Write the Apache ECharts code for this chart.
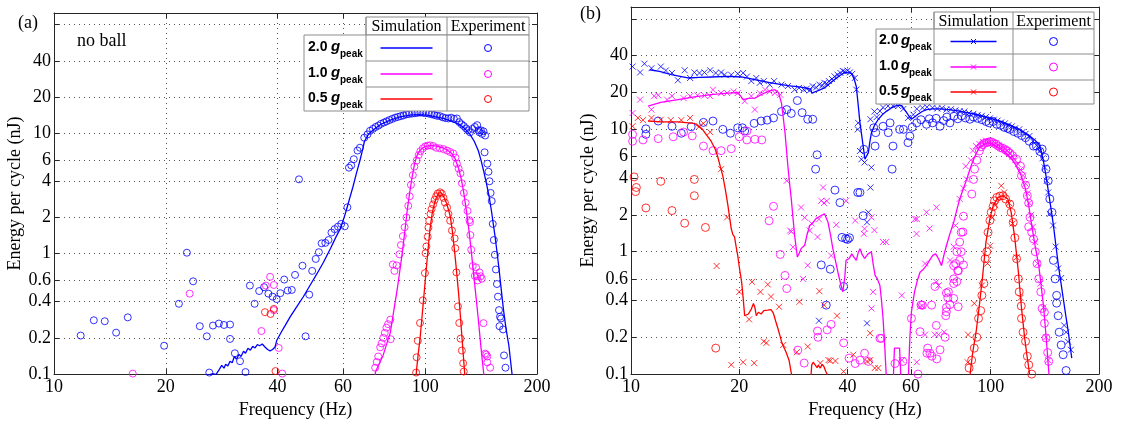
<!DOCTYPE html>
<html>
<head>
<meta charset="utf-8">
<script src="https://cdn.jsdelivr.net/npm/echarts@6/dist/echarts.min.js"></script>
<style>
  html, body { margin: 0; padding: 0; background: #fff; }
  #chart { width: 1121px; height: 424px; }
</style>
</head>
<body>
<div id="chart"></div>
<script>
// ---- axis ticks and labels ----
const xTickValues = [20, 40, 60, 100];
const xLabelValues = [10, 20, 40, 60, 100, 200];
const yTickValues = [0.2, 0.4, 0.6, 1, 2, 4, 6, 10, 20, 40, 80];
const yLabelValues = [0.1, 0.2, 0.4, 0.6, 1, 2, 4, 6, 10, 20, 40];
const legendRows = ['2.0', '1.0', '0.5'];

// ---- panel (a): no ball — [frequency Hz, energy nJ] ----
const aSim20 = [[26.0,0.098],[26.8,0.101],[27.3,0.099],[27.8,0.108],[28.3,0.118],[28.7,0.112],[29.0,0.121],[29.4,0.117],[29.8,0.128],[30.2,0.124],[30.6,0.140],[31.0,0.133],[31.5,0.146],[31.9,0.140],[32.4,0.155],[32.8,0.149],[33.3,0.164],[33.8,0.158],[34.3,0.170],[34.8,0.165],[35.3,0.176],[35.8,0.172],[36.4,0.178],[37.0,0.168],[37.6,0.160],[38.2,0.156],[38.8,0.160],[39.4,0.168],[39.8,0.190],[41.0,0.225],[42.0,0.255],[43.3,0.30],[45.0,0.36],[46.9,0.437],[49.0,0.55],[51.0,0.676],[53.2,0.85],[55.6,1.11],[57.5,1.38],[59.0,1.61],[60.3,1.95],[61.4,2.34],[62.6,2.9],[63.9,3.62],[65.3,4.7],[66.7,5.95],[67.7,7.2],[68.6,8.6],[70.4,9.9],[72.5,10.7],[76.0,11.9],[80.5,12.9],[85.5,13.7],[91,14.2],[96,14.3],[101,14.2],[106,13.8],[112,13.3],[118,12.6],[124,11.8],[128,10.9],[132,9.8],[135.5,8.6],[139,7.17],[141.3,6.0],[143.5,4.94],[146,3.9],[148.6,3.0],[151,2.2],[154,1.43],[156.4,0.98],[158.6,0.676],[160.5,0.48],[162.5,0.34],[165,0.24],[168,0.172],[171,0.105],[172,0.09]];
const aExp20 = [[11.8,0.209],[12.8,0.28],[13.7,0.275],[14.7,0.221],[15.8,0.296],[19.8,0.172],[21.7,0.384],[22.8,1.02],[23.7,0.59],[24.7,0.25],[25.8,0.206],[26.2,0.103],[26.8,0.253],[27.8,0.263],[28.7,0.256],[29.8,0.258],[29.8,0.196],[30.7,0.149],[31.7,0.128],[32.8,0.104],[33.7,0.544],[34.7,0.384],[35.7,0.49],[36.8,0.527],[37.8,0.466],[38.8,0.44],[39.8,0.42],[40.7,0.47],[41.7,0.61],[42.6,0.495],[43.7,0.5],[44.6,0.667],[45.7,4.15],[46.7,0.795],[47.6,0.206],[48.7,0.457],[49.6,0.72],[50.7,0.905],[51.7,1.03],[52.6,1.22],[53.8,1.23],[54.9,1.3],[55.9,1.5],[57.0,1.6],[58.2,1.68],[59.4,1.77],[60.7,1.69],[61.7,2.43],[62.3,5.19],[63.2,5.42],[64.2,6.1],[65.7,7.2],[66.7,7.6],[68.5,9.2],[69.9,9.8],[71.0,10.5],[72.3,10.9],[73.5,11.3],[74.8,11.6],[76.0,12.0],[77.4,12.3],[78.7,12.6],[80.1,12.9],[81.5,13.2],[83.0,13.5],[84.4,13.7],[85.9,13.9],[87.4,14.1],[89.0,14.4],[90.5,14.5],[92.1,14.6],[93.7,14.7],[95.3,14.8],[97.0,14.9],[98.7,14.8],[100.4,14.7],[102.2,14.6],[104.0,14.4],[105.8,14.2],[107.6,14.0],[109.5,13.9],[111.4,13.6],[113.4,13.4],[115.4,13.3],[117.4,13.5],[119.4,13.2],[121.7,13.3],[123.5,12.4],[125.3,11.9],[127.0,11.5],[128.8,11.0],[130.4,10.6],[132.0,10.2],[134.0,10.9],[136.0,11.3],[138.0,11.7],[139.2,10.6],[140.0,10.2],[141.2,10.6],[142.3,9.9],[143.5,10.4],[145.0,9.6],[144.5,6.96],[147,5.6],[148,4.8],[149,4.0],[150,3.2],[151,2.74],[152,1.77],[153,1.3],[154,0.98],[155,0.74],[156,0.56],[157,0.44],[158,0.34],[159,0.30],[160,0.29],[158.5,0.25],[162,0.235],[163,0.143],[164.5,0.113]];
const aSim10 = [[73.0,0.09],[73.5,0.105],[75.0,0.12],[77,0.143],[78.8,0.18],[80.5,0.22],[82.2,0.33],[84,0.5],[85.5,0.74],[86.8,1.04],[88.2,1.58],[89.5,2.34],[90.9,3.3],[92.2,4.36],[93.5,5.5],[94.9,6.5],[96.7,7.2],[98.7,7.6],[101,7.85],[104,7.95],[108,7.8],[112,7.55],[115,7.2],[118,6.8],[120.5,6.1],[123,5.1],[125,4.2],[127,3.2],[129,2.3],[131,1.61],[133,1.06],[135,0.676],[137,0.44],[139,0.284],[141.2,0.17],[143.5,0.105],[144.5,0.09]];
const aExp10 = [[16.3,0.101],[23.2,0.466],[36.2,0.228],[37.2,0.544],[38.2,0.643],[39.1,0.55],[39.1,0.34],[40.3,0.165],[41.2,0.101],[73.3,0.113],[74.0,0.126],[74.7,0.14],[75.6,0.167],[76.3,0.18],[77.1,0.2],[77.8,0.22],[78.6,0.243],[79.4,0.26],[80.5,0.283],[80.7,0.195],[81.8,0.815],[82.6,0.72],[83.7,0.8],[85.2,0.99],[86.0,1.18],[87.0,1.4],[88.0,1.66],[89.0,2.0],[90.0,2.5],[90.8,3.0],[91.5,3.73],[92.6,4.5],[93.5,5.3],[94.8,5.95],[96.0,6.6],[97.0,7.1],[98.5,7.5],[100.0,7.8],[101.5,7.9],[103.0,7.95],[105.0,7.85],[107.0,7.6],[109.5,7.5],[112.0,7.4],[114.5,7.2],[116.7,7.0],[119.0,6.8],[120.6,6.3],[121.7,5.6],[123.0,5.1],[124.4,4.65],[125.5,3.85],[127.0,3.2],[128.5,2.65],[130.0,2.27],[131.5,1.9],[132.0,1.83],[132.3,1.43],[133.0,1.08],[134.3,0.79],[136.0,0.655],[137.0,0.77],[138.0,0.65],[140.0,0.7],[141.0,0.65],[138.5,0.6],[142.0,0.62],[143.5,0.265],[145.0,0.148],[146.0,0.145],[147.0,0.14],[147.0,0.125],[149.6,0.113]];
const aSim05 = [[94.3,0.09],[94.8,0.11],[95.8,0.15],[96.8,0.195],[98.3,0.33],[100,0.6],[101.5,1.0],[103,1.61],[104.5,2.2],[106,2.65],[107.5,3.0],[109,3.2],[110.5,3.2],[112,3.0],[114.3,2.6],[116.7,2.07],[118.3,1.55],[120,1.04],[121.5,0.7],[123,0.466],[124.3,0.31],[125.5,0.207],[126.6,0.145],[127.6,0.105],[128,0.09]];
const aExp05 = [[37.0,0.327],[38.3,0.316],[39.1,0.348],[39.5,0.106],[94.5,0.103],[94.8,0.138],[95.5,0.189],[96.8,0.266],[98.5,0.41],[99.8,0.69],[100.2,1.01],[100.7,1.15],[101.5,1.38],[102.0,1.65],[102.5,1.88],[103.3,2.14],[104.0,2.35],[105.0,2.57],[106.0,2.8],[107.0,3.0],[108.0,3.16],[109.6,3.24],[110.8,3.16],[112.0,2.91],[113.0,2.66],[114.5,2.42],[115.5,2.14],[116.7,1.88],[118.0,1.56],[120.0,1.34],[120.5,1.11],[121.3,0.7],[122.5,0.365],[123.5,0.266],[124.5,0.197],[125.5,0.157],[126.5,0.123],[127.0,0.105]];

// ---- panel (b): with ball — smoothed simulation, raw simulation (x), experiment ----
const bSim20 = [[11.27,30.7],[12.0,29.8],[12.95,28.0],[13.7,27.1],[14.4,26.3],[15.5,26.6],[16.7,26.8],[18.6,27.1],[20.3,26.8],[22.1,25.5],[24.5,24.0],[27.3,22.8],[29.7,22.1],[31.6,21.3],[31.8,19.8],[33.0,20.6],[34.5,21.8],[35.6,23.6],[36.8,25.5],[38.0,27.4],[39.3,29.2],[40.5,29.0],[41.1,28.5],[41.8,25.3],[42.3,22.4],[42.8,16.0],[43.3,11.3],[43.8,8.9],[44.2,7.3],[44.7,5.7],[45.2,5.9],[45.7,6.45],[46.1,7.8],[46.6,9.4],[47.6,10.9],[48.7,12.1],[50.0,13.2],[51.4,14.1],[52.8,14.9],[54.2,15.5],[55.4,15.8],[56.6,15.6],[57.5,14.6],[58.4,13.7],[59.3,12.8],[60.2,12.1],[61.5,12.7],[62.8,13.3],[64.5,14.0],[66.3,14.5],[69.0,14.7],[72.3,14.7],[76.5,14.5],[82,14.1],[87.5,13.6],[93,13.0],[99,12.4],[106,11.7],[112,11.0],[118,10.3],[123,9.6],[128.6,8.8],[132.5,8.2],[136,7.55],[138.3,6.6],[140.4,5.35],[142.6,4.1],[144.8,3.05],[147.1,2.25],[149.4,1.64],[151.8,1.12],[154.2,0.774],[156.6,0.57],[159.1,0.415],[161.7,0.3],[164.3,0.222],[166.2,0.17],[168,0.135]];
const bRaw20 = [[10.1,32.6],[10.6,29.2],[10.9,34.4],[11.4,31.6],[12.1,32.6],[12.5,30.3],[13.0,28.9],[13.5,25.2],[14.1,30.4],[14.6,26.3],[15.0,29.2],[15.5,28.9],[16.0,29.2],[16.6,30.4],[17.2,28.9],[17.8,29.2],[18.2,27.9],[19.0,27.9],[19.8,28.5],[20.5,28.9],[21.0,27.0],[21.6,24.8],[22.3,26.3],[22.8,24.0],[23.4,24.8],[24.3,23.2],[25.0,24.8],[26.2,23.2],[27.3,22.6],[28.5,21.1],[29.3,21.8],[30.2,21.1],[30.8,21.5],[31.4,20.8],[32.0,22.5],[32.7,22.0],[33.4,23.2],[34.0,22.8],[34.5,24.0],[35.0,23.6],[35.5,24.8],[36.2,25.8],[36.8,27.1],[37.5,28.0],[38.2,28.9],[38.8,30.0],[39.3,29.7],[40.0,30.2],[40.6,29.2],[41.2,28.4],[41.9,26.3],[42.3,21.1],[42.7,10.0],[42.8,11.3],[43.3,6.66],[43.7,5.7],[44.6,5.36],[46.6,4.88],[46.3,3.35],[45.7,2.1],[45.3,1.74],[45.3,0.26],[33.3,0.273],[46.3,12.1],[47.5,14.0],[48.2,12.6],[49.2,14.1],[50.2,15.1],[51.8,15.5],[53.5,15.6],[55.3,15.5],[57.2,14.7],[58.9,12.4],[60.9,13.2],[62.3,14.7],[64.6,15.0],[66.5,15.2],[68.9,15.0],[71.0,14.8],[73.2,14.9],[75.3,14.5],[77.5,14.6],[79.8,14.3],[82.0,14.1],[84.5,14.0],[87.0,13.6],[89.5,13.4],[92.0,13.1],[94.5,12.9],[97.0,12.6],[99.5,12.3],[102,12.0],[104.5,11.8],[107,11.4],[109.5,11.2],[112,10.8],[114.5,10.6],[117,10.2],[120,10.0],[122.5,9.5],[125,9.2],[128,8.8],[131,8.0],[134,7.4],[137,6.66],[139.3,5.8],[141.4,4.88],[143.2,3.8],[144.5,3.05],[146,2.04],[149,1.64],[151.5,1.1],[154,0.73],[157,0.61],[160,0.25],[162,0.22],[164,0.184],[167,0.158]];
const bExp20 = [[11.0,10.1],[11.0,9.1],[11.9,11.7],[13.0,10.6],[13.8,9.3],[14.7,10.5],[15.9,11.4],[16.9,11.7],[18.0,10.0],[18.9,9.3],[19.8,10.3],[20.4,10.3],[20.7,9.7],[22.0,11.2],[23.0,11.7],[23.9,11.9],[24.9,12.4],[26.2,14.0],[27.1,14.5],[27.9,13.5],[29.0,17.2],[29.9,13.7],[31.0,12.1],[32.0,12.1],[32.9,6.2],[32.6,4.73],[36.9,3.19],[38.1,2.52],[38.6,1.31],[40.0,1.26],[42.7,3.05],[33.8,0.78],[35.8,0.72],[39.0,0.52],[34.9,0.366],[39.5,1.28],[40.5,1.3],[43.3,3.05],[44.2,1.97],[44.4,6.87],[47.7,7.3],[47.9,9.4],[47.3,10.3],[50.2,10.6],[52.5,11.3],[51.9,9.4],[53.2,4.73],[53.5,7.3],[55.8,10.0],[57.2,10.0],[58.9,7.8],[59.6,8.8],[60.5,10.4],[62.3,11.3],[64.0,12.0],[66.3,11.0],[67.5,12.2],[68.9,11.3],[70.5,12.3],[72.3,10.6],[74.0,11.8],[75.5,12.6],[77.0,11.3],[79.0,12.8],[81.0,12.2],[83.0,12.9],[85.0,12.4],[87.5,12.1],[89.5,12.6],[92.0,12.3],[94.5,12.0],[97.0,11.6],[99.0,11.3],[101.5,11.6],[104.0,11.0],[106.5,10.8],[109.0,10.4],[111.5,10.2],[113.0,10.0],[116.0,9.6],[119.0,9.3],[122.0,8.9],[125.0,8.55],[128.0,8.0],[131.5,7.3],[134.0,7.3],[137.0,6.6],[139.0,6.9],[141.4,5.9],[142.5,4.73],[144.5,3.8],[146.0,2.7],[148.0,2.1],[149.4,0.85],[151.0,0.6],[152.5,0.44],[152.5,0.38],[154.0,0.30],[155.0,0.22],[157.0,0.173],[159.0,0.144],[162.0,0.107]];

const bSim10 = [[11.15,15.5],[12.1,16.6],[13.5,17.5],[15.0,18.4],[16.7,19.2],[18.6,19.8],[19.8,20.0],[20.2,18.6],[20.5,17.5],[21.2,17.9],[22.1,18.0],[23.0,19.2],[24.0,20.4],[25.1,21.1],[25.7,20.0],[26.2,16.4],[26.5,12.5],[26.8,9.4],[27.3,5.0],[27.6,3.6],[27.9,2.7],[28.2,1.9],[28.5,1.36],[29.0,0.905],[29.4,0.98],[29.7,1.06],[30.4,1.13],[30.9,1.4],[31.4,1.64],[32.0,1.72],[32.6,1.85],[33.5,1.95],[34.5,2.04],[35.3,1.74],[35.9,1.35],[36.4,1.06],[37.0,0.85],[37.6,0.68],[38.2,0.56],[38.8,0.47],[39.3,0.62],[39.6,0.85],[40.4,0.88],[41.1,0.96],[41.7,0.9],[42.3,0.85],[42.8,0.98],[43.3,1.06],[43.9,0.95],[44.6,0.88],[45.6,0.96],[46.6,1.0],[47.1,0.8],[47.7,0.64],[48.4,0.6],[49.2,0.53],[49.7,0.4],[50.2,0.285],[50.8,0.16],[51.3,0.09],[53.6,0.09],[54.0,0.163],[55.8,0.163],[56.3,0.09],[59.0,0.09],[59.6,0.2],[60.2,0.323],[61.4,0.47],[62.5,0.58],[63.6,0.68],[65.0,0.72],[66.3,0.774],[67.6,0.85],[69.0,0.933],[70.3,0.96],[71.6,0.877],[73.0,0.77],[74.2,0.95],[75.3,1.12],[77.0,1.4],[78.9,1.74],[80.5,2.2],[82.0,2.7],[84.0,3.3],[85.8,3.92],[87.5,4.7],[89.2,5.5],[91.0,6.3],[93.0,7.1],[95.5,7.5],[98.2,7.8],[100.8,7.6],[103.5,7.3],[106.5,6.9],[110.0,6.45],[114.0,5.8],[118.0,5.0],[121.5,4.2],[125.0,3.25],[127.5,2.4],[130.0,1.64],[133.0,1.1],[136.0,0.774],[138.2,0.52],[140.4,0.344],[142.6,0.2],[145.0,0.105],[145.5,0.09]];
const bRaw10 = [[10.1,13.6],[10.6,17.5],[11.4,14.5],[11.6,18.7],[11.9,19.0],[12.6,17.5],[13.0,18.7],[14.0,18.0],[14.6,18.7],[15.3,19.0],[16.0,18.9],[16.6,18.7],[16.9,21.1],[17.8,19.8],[18.5,19.8],[19.3,20.4],[19.8,19.8],[20.7,17.0],[21.6,18.7],[22.1,14.5],[22.8,19.8],[23.6,21.1],[24.3,20.4],[25.1,19.8],[26.0,19.2],[27.1,3.8],[27.7,1.49],[28.2,1.09],[29.7,2.3],[30.4,1.9],[31.4,1.49],[31.8,1.7],[33.0,1.32],[33.3,1.84],[33.8,2.61],[34.4,2.5],[35.0,2.6],[34.2,3.35],[36.0,0.93],[37.2,1.66],[39.6,2.61],[31.0,0.774],[30.1,0.6],[27.9,1.46],[42.0,1.8],[44.6,1.54],[44.4,1.4],[46.6,1.91],[47.5,1.5],[50.2,1.2],[51.2,1.2],[56.6,0.44],[47.1,0.47],[46.6,0.344],[61.5,1.85],[62.3,1.85],[62.2,1.4],[66.3,2.1],[67.6,1.55],[70.6,2.3],[65.7,0.8],[63.6,0.355],[64.6,0.36],[70.6,0.567],[71.6,0.53],[65.7,0.21],[69.9,0.21],[71.6,0.21],[74.2,0.22],[77.1,0.85],[78.9,1.1],[79.8,1.64],[82.0,2.7],[84.0,3.3],[85.8,3.9],[85.2,5.0],[88.0,5.6],[89.2,6.7],[91.0,7.3],[93.0,7.6],[95.0,7.9],[97.0,8.1],[99.0,8.0],[101.0,7.8],[103.0,7.7],[105.0,7.4],[107.0,7.2],[109.0,7.0],[111.0,6.7],[113.0,6.4],[115.0,6.0],[117.0,5.6],[119.0,5.2],[121.0,4.7],[123.0,4.2],[125.0,3.6],[126.5,3.0],[128.0,2.5],[129.5,2.0],[131.0,1.6],[133.0,1.2],[135.0,0.8],[137.5,0.55],[140.0,0.35],[142.5,0.2],[144.5,0.13],[56.6,0.13],[62.3,0.125]];
const bExp10 = [[10.1,9.1],[10.1,8.0],[10.8,8.2],[11.9,8.4],[13.1,8.7],[14.0,9.5],[14.8,8.85],[15.9,7.3],[16.9,6.7],[17.8,6.7],[19.0,6.95],[20.0,8.7],[21.0,8.2],[21.0,9.7],[22.1,8.3],[23.1,8.2],[24.9,2.35],[24.2,1.79],[26.0,0.95],[26.8,0.64],[27.1,0.5],[29.1,0.157],[30.3,0.123],[33.0,0.225],[33.1,0.20],[35.1,0.23],[36.0,0.255],[39.0,0.18],[40.4,0.135],[42.0,0.122],[43.3,0.13],[44.6,0.148],[45.7,0.127],[49.2,0.196],[49.7,0.196],[54.2,0.122],[57.0,0.127],[60.2,0.285],[63.6,0.222],[64.0,0.367],[64.6,0.366],[66.5,0.148],[66.8,0.163],[67.8,0.148],[68.5,0.366],[68.6,0.14],[70.8,0.133],[72.3,0.158],[74.7,0.2],[75.0,0.3],[75.3,0.323],[75.3,0.35],[62.8,0.1],[70.0,0.52],[70.6,0.25],[75.3,0.46],[76.0,0.42],[76.3,0.47],[78.9,0.55],[78.9,0.6],[78.9,0.77],[79.9,0.8],[80.5,0.57],[80.5,1.0],[81.0,0.7],[81.2,0.355],[81.3,0.7],[82.0,0.85],[82.0,1.2],[82.8,1.0],[82.8,1.44],[83.7,1.45],[84.0,1.95],[84.0,0.78],[78.9,0.415],[77.0,0.37],[88.6,2.96],[89.6,3.9],[90.2,4.73],[91.5,5.6],[93.0,6.66],[94.0,7.2],[95.0,7.5],[96.0,7.7],[97.6,7.8],[99.0,7.9],[100.5,7.9],[102.0,7.7],[103.5,7.55],[105.0,7.3],[106.5,7.1],[108.0,7.0],[110.0,6.8],[111.5,6.6],[113.0,6.4],[115.0,6.1],[118.0,5.7],[121.0,5.0],[121.8,4.17],[125.0,3.5],[126.4,2.87],[127.5,2.5],[128.6,1.91],[127.5,1.6],[130.0,1.44],[131.5,1.27],[133.0,1.0],[134.5,0.8],[136.0,0.6],[137.8,0.47],[139.0,0.344],[141.0,0.26],[141.0,0.32],[142.5,0.197],[144.0,0.15],[145.0,0.127]];

const bSim05 = [[11.15,11.7],[12.1,11.5],[13.5,11.5],[15.0,11.2],[15.8,10.0],[16.7,8.0],[17.1,7.0],[17.4,6.06],[17.7,5.0],[18.0,4.17],[18.3,3.2],[18.6,2.38],[18.8,1.9],[19.0,1.54],[19.2,1.38],[19.4,1.32],[19.6,1.1],[19.8,0.935],[20.0,0.75],[20.3,0.567],[20.5,0.42],[20.7,0.30],[20.9,0.29],[21.2,0.31],[21.6,0.34],[21.9,0.378],[22.1,0.35],[22.3,0.30],[22.6,0.32],[23.0,0.31],[23.4,0.33],[24.0,0.333],[24.5,0.337],[24.8,0.32],[25.0,0.30],[25.3,0.265],[25.6,0.237],[25.9,0.21],[26.2,0.185],[26.5,0.17],[26.8,0.158],[27.0,0.15],[27.2,0.15],[27.5,0.13],[27.9,0.102],[28.1,0.09],[31.6,0.09],[31.8,0.119],[32.1,0.125],[32.5,0.122],[32.9,0.113],[33.2,0.118],[33.6,0.112],[34.0,0.12],[34.4,0.115],[34.8,0.105],[35.1,0.1],[35.5,0.09],[87.5,0.09],[87.8,0.105],[89.2,0.153],[91.1,0.222],[93,0.366],[95,0.64],[97,1.2],[99.4,1.85],[101.6,2.38],[104.8,2.78],[108.2,2.87],[111.6,2.7],[114,2.1],[116.7,1.28],[119.4,0.68],[121.8,0.344],[124.3,0.196],[126.2,0.14],[128,0.105],[128.5,0.09]];
const bRaw05 = [[10.1,10.6],[10.45,12.4],[10.8,11.9],[11.4,12.4],[12.1,12.0],[12.9,11.9],[13.8,11.9],[14.6,12.4],[15.5,10.6],[16.6,9.5],[15.9,11.2],[17.8,4.73],[18.5,1.91],[17.3,0.765],[20.0,0.47],[21.7,0.567],[22.9,0.47],[24.0,0.54],[24.5,0.43],[25.8,0.355],[29.4,0.39],[33.4,0.476],[34.4,0.366],[37.4,0.30],[23.4,0.185],[23.8,0.18],[26.5,0.173],[21.3,0.28],[20.5,0.125],[22.0,0.123],[19.0,0.119],[31.0,0.168],[33.6,0.123],[35.4,0.13],[39.0,0.105],[28.9,0.151],[35.8,0.129],[37.0,0.128],[46.2,0.216],[46.2,0.13],[45.3,0.127],[47.6,0.112],[48.7,0.112],[41.5,0.144],[86.5,0.21],[86.3,0.125],[90.0,0.378],[94.5,0.53],[98.0,0.8],[99.6,1.12],[101.0,1.9],[103.0,2.4],[107.0,3.46],[109.0,3.05],[112.5,2.5],[115.0,1.7],[118.0,0.9],[121.0,0.42]];
const bExp05 = [[10.2,4.09],[10.35,3.35],[10.3,3.1],[11.0,2.28],[12.1,3.76],[13.0,2.17],[14.1,1.71],[15.0,3.9],[15.0,2.87],[16.1,1.58],[17.2,0.163],[87.1,0.112],[88.5,0.13],[90.0,0.163],[91.5,0.2],[92.5,0.285],[93.8,0.33],[94.5,0.44],[95.7,0.55],[96.5,0.877],[97.5,1.0],[98.3,1.44],[99.5,1.8],[100.3,2.1],[101.5,2.34],[102.5,2.61],[104.0,2.78],[106.0,2.85],[108.2,2.87],[110.0,2.7],[113.0,2.45],[114.0,2.1],[115.5,1.74],[116.7,1.3],[118.0,0.877],[119.4,0.6],[120.0,0.47],[121.6,0.36],[121.8,0.285],[123.0,0.22],[125.0,0.185],[126.4,0.14],[127.6,0.119],[130.0,0.1]];

// ---- styling ----
const BLUE = '#0000ff', MAGENTA = '#ff00ff', RED = '#ff0000';
const SERIF = '"Liberation Serif", "Times New Roman", serif';
const SANS = '"Liberation Sans", Arial, sans-serif';
const AXIS_COLOR = '#262626';
const CROSS = 'path://M0,0L10,10M10,0L0,10';
const FONT_SIZE = 18;

function fmt(v) { return String(+(+v).toPrecision(3)); }

function xAxis(gridIndex, position, main) {
  return {
    type: 'log', logBase: 10, gridIndex, position, min: 10, max: 200,
    axisLine: { show: true, lineStyle: { color: AXIS_COLOR, width: 1 } },
    axisTick: { show: true, inside: true, length: 5, customValues: xTickValues, lineStyle: { color: AXIS_COLOR } },
    axisLabel: { show: main, customValues: xLabelValues, formatter: fmt, color: '#000', fontFamily: SERIF, fontSize: FONT_SIZE, margin: 4 },
    splitLine: { show: main, lineStyle: { color: '#555', width: 1, type: [1, 4] } },
    minorTick: { show: false }, minorSplitLine: { show: false },
    name: main ? 'Frequency (Hz)' : '', nameLocation: 'middle', nameGap: 18,
    nameTextStyle: { color: '#000', fontFamily: SERIF, fontSize: FONT_SIZE }
  };
}
function yAxis(gridIndex, position, main, gap) {
  return {
    type: 'log', logBase: 10, gridIndex, position, min: 0.1, max: 100,
    axisLine: { show: true, lineStyle: { color: AXIS_COLOR, width: 1 } },
    axisTick: { show: true, inside: true, length: 5, customValues: yTickValues, lineStyle: { color: AXIS_COLOR } },
    axisLabel: { show: main, customValues: yLabelValues, formatter: fmt, color: '#000', fontFamily: SERIF, fontSize: FONT_SIZE, margin: 3 },
    splitLine: { show: main, lineStyle: { color: '#555', width: 1, type: [1, 4] } },
    minorTick: { show: false }, minorSplitLine: { show: false },
    name: main ? 'Energy per cycle (nJ)' : '', nameLocation: 'middle', nameGap: gap,
    nameTextStyle: { color: '#000', fontFamily: SERIF, fontSize: FONT_SIZE }
  };
}

function lineSeries(data, color, xi, yi) {
  return { type: 'line', data, xAxisIndex: xi, yAxisIndex: yi, showSymbol: false, symbol: 'none',
    lineStyle: { color, width: 1.3 }, clip: true, silent: true, z: 3, animation: false };
}
function circleSeries(data, color, xi, yi, size) {
  return { type: 'scatter', data, xAxisIndex: xi, yAxisIndex: yi, symbol: 'circle', symbolSize: size,
    itemStyle: { color: 'rgba(0,0,0,0)', borderColor: color, borderWidth: 1 }, clip: true, silent: true, z: 2, animation: false };
}
function crossSeries(data, color, xi, yi) {
  return { type: 'scatter', data, xAxisIndex: xi, yAxisIndex: yi, symbol: CROSS, symbolSize: 6,
    itemStyle: { color: 'rgba(0,0,0,0)', borderColor: color, borderWidth: 1 }, clip: true, silent: true, z: 2, animation: false };
}

// Bordered legend table: row labels, simulation line sample, experiment circle.
function tableLegend(L, C1, C2, R, H, rows, halfLine, circR, withCross, lab) {
  const els = [];
  const stroke = { stroke: '#8c8c8c', lineWidth: 1, fill: null };
  els.push({ type: 'rect', shape: { x: C1, y: H, width: R - C1, height: rows[0] - H }, style: { fill: '#fff', stroke: '#8c8c8c', lineWidth: 1 }, z: 100 });
  els.push({ type: 'rect', shape: { x: L, y: rows[0], width: R - L, height: rows[3] - rows[0] }, style: { fill: '#fff', stroke: '#8c8c8c', lineWidth: 1 }, z: 100 });
  els.push({ type: 'line', shape: { x1: C1, y1: H, x2: C1, y2: rows[3] }, style: stroke, z: 101 });
  els.push({ type: 'line', shape: { x1: C2, y1: H, x2: C2, y2: rows[3] }, style: stroke, z: 101 });
  els.push({ type: 'line', shape: { x1: C1, y1: rows[1], x2: R, y2: rows[1] }, style: stroke, z: 101 });
  els.push({ type: 'line', shape: { x1: C1, y1: rows[2], x2: R, y2: rows[2] }, style: stroke, z: 101 });
  const headY = (H + rows[0]) / 2 + 1;
  els.push({ type: 'text', x: (C1 + C2) / 2, y: headY, style: { text: 'Simulation', font: '16px ' + SERIF, fill: '#000', align: 'center', verticalAlign: 'middle' }, z: 102 });
  els.push({ type: 'text', x: (C2 + R) / 2, y: headY, style: { text: 'Experiment', font: '16px ' + SERIF, fill: '#000', align: 'center', verticalAlign: 'middle' }, z: 102 });
  const colors = [BLUE, MAGENTA, RED];
  for (let i = 0; i < 3; i++) {
    const cy = (rows[i] + rows[i + 1]) / 2;
    const c = colors[i];
    els.push({ type: 'text', x: L + lab[0], y: cy - 1, style: { text: legendRows[i], font: 'bold 14px ' + SANS, fill: '#000', align: 'left', verticalAlign: 'middle' }, z: 102 });
    els.push({ type: 'text', x: L + lab[1], y: cy - 1, style: { text: 'g', font: 'italic bold 15px ' + SANS, fill: '#000', align: 'left', verticalAlign: 'middle' }, z: 102 });
    els.push({ type: 'text', x: L + lab[2], y: cy + 6, style: { text: 'peak', font: 'bold 10px ' + SANS, fill: '#000', align: 'left', verticalAlign: 'middle' }, z: 102 });
    const mx = (C1 + C2) / 2;
    els.push({ type: 'line', shape: { x1: mx - halfLine, y1: cy, x2: mx + halfLine, y2: cy }, style: { stroke: c, lineWidth: 1.3 }, z: 102 });
    if (withCross) {
      els.push({ type: 'line', shape: { x1: mx - 2.5, y1: cy - 2.5, x2: mx + 2.5, y2: cy + 2.5 }, style: { stroke: c, lineWidth: 1 }, z: 102 });
      els.push({ type: 'line', shape: { x1: mx - 2.5, y1: cy + 2.5, x2: mx + 2.5, y2: cy - 2.5 }, style: { stroke: c, lineWidth: 1 }, z: 102 });
    }
    els.push({ type: 'circle', shape: { cx: (C2 + R) / 2, cy, r: circR }, style: { fill: null, stroke: c, lineWidth: 1 }, z: 102 });
  }
  return els;
}

const chart = echarts.init(document.getElementById('chart'), null, { renderer: 'canvas' });
chart.setOption({
  backgroundColor: '#fff',
  animation: false,
  grid: [
    { left: 54, top: 13, width: 483, height: 370, containLabel: false },
    { left: 631, top: 7, width: 468, height: 369, containLabel: false }
  ],
  xAxis: [xAxis(0, 'bottom', true), xAxis(0, 'top', false), xAxis(1, 'bottom', true), xAxis(1, 'top', false)],
  yAxis: [yAxis(0, 'left', true, 30), yAxis(0, 'right', false, 0), yAxis(1, 'left', true, 34), yAxis(1, 'right', false, 0)],
  series: [
    circleSeries(aExp20, BLUE, 0, 0, 7),
    circleSeries(aExp10, MAGENTA, 0, 0, 7),
    circleSeries(aExp05, RED, 0, 0, 7),
    lineSeries(aSim20, BLUE, 0, 0),
    lineSeries(aSim10, MAGENTA, 0, 0),
    lineSeries(aSim05, RED, 0, 0),

    circleSeries(bExp20, BLUE, 2, 2, 8),
    circleSeries(bExp10, MAGENTA, 2, 2, 8),
    circleSeries(bExp05, RED, 2, 2, 8),
    crossSeries(bRaw20, BLUE, 2, 2),
    crossSeries(bRaw10, MAGENTA, 2, 2),
    crossSeries(bRaw05, RED, 2, 2),
    lineSeries(bSim20, BLUE, 2, 2),
    lineSeries(bSim10, MAGENTA, 2, 2),
    lineSeries(bSim05, RED, 2, 2)
  ],
  graphic: [
    { type: 'text', x: 18, y: 23, style: { text: '(a)', font: FONT_SIZE + 'px ' + SERIF, fill: '#000', verticalAlign: 'middle' }, z: 100 },
    { type: 'text', x: 77, y: 41, style: { text: 'no ball', font: FONT_SIZE + 'px ' + SERIF, fill: '#000', verticalAlign: 'middle' }, z: 100 },
    { type: 'text', x: 580, y: 14, style: { text: '(b)', font: FONT_SIZE + 'px ' + SERIF, fill: '#000', verticalAlign: 'middle' }, z: 100 }
  ].concat(
    tableLegend(304, 366, 447, 529, 17, [35, 61, 87, 111], 26, 3.5, false, [4, 27, 36]),
    tableLegend(876, 934, 1013, 1094, 12, [29, 54, 80, 104], 23, 4, true, [3, 25, 33])
  )
});
</script>
</body>
</html>
